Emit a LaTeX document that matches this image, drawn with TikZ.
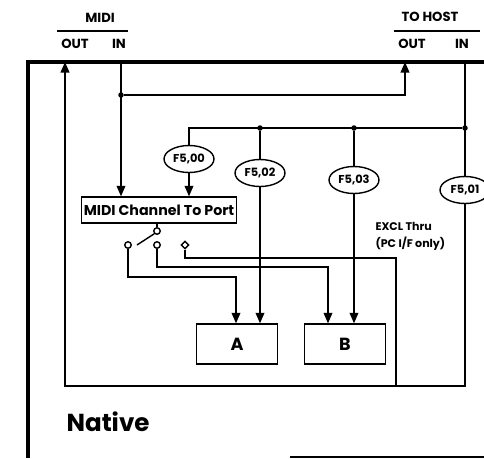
\documentclass[tikz,border=0pt]{standalone}
\usepackage{fontspec}
\setmainfont{Poppins}
\usetikzlibrary{positioning, arrows.meta, calc, shapes.geometric}

\begin{document}
\begin{tikzpicture}[
  x=0.02cm, y=-0.02cm,
  >={Triangle[length=6pt, width=5pt]},
  font=\bfseries, line width=0.8pt,
  frame/.style={line width=1.8pt},
  hdr/.style={font=\fontsize{7.5}{9}\selectfont\bfseries},
  filt/.style={draw, ellipse, minimum width=1cm, minimum height=0.54cm,
               inner sep=0pt, font=\fontsize{6.5}{8}\selectfont\bfseries},
  blk/.style={draw, minimum width=1.62cm, minimum height=0.8cm, inner sep=0pt},
  contact/.style={draw, circle, fill=white, minimum size=0.13cm, inner sep=0pt},
  jdot/.style={circle, fill, minimum size=0.11cm, inner sep=0pt},
]
\useasboundingbox (0,0) rectangle (484,458);

% Header labels
\node[hdr] (midilbl) at (100,18) {MIDI};
\node[hdr] (midiout) at (75,44) {OUT};
\node[hdr] (midiin) at (119,44) {IN};
\node[hdr] (hostlbl) at (430,17) {TO HOST};
\node[hdr] (hostout) at (412,44) {OUT};
\node[hdr] (hostin) at (462,44) {IN};
\draw (57,31) -- (128,31);
\draw (394,31) -- (480,31);

% Frame
\draw[frame] (484,62) -- (28,62) -- (28,458);
\draw (290,457) -- (484,457);

% Port points on the frame
\coordinate (midiOutP) at (65,62);
\coordinate (midiInP) at (121,62);
\coordinate (hostOutP) at (405,62);
\coordinate (hostInP) at (465,62);

% Junctions and corners
\node[jdot] (j1) at (121,95) {};
\node[jdot] (j2) at (465,128) {};
\node[jdot] (j3) at (354,128) {};
\node[jdot] (j4) at (260,128) {};
\coordinate (c1) at (189,128);
\coordinate (lowR) at (465,386);
\coordinate (lowL) at (65,386);

% Filters
\node[filt] (f500) at (189,159) {F5,00};
\node[filt] (f502) at (260,173) {F5,02};
\node[filt] (f503) at (354,180) {F5,03};
\node[filt] (f501) at (465,190) {F5,01};

% Blocks
\node[draw, minimum width=3.1cm, minimum height=0.52cm, inner sep=0pt,
      font=\fontsize{8.1}{10}\selectfont\bfseries] (mcp) at (159,210) {MIDI Channel To Port};
\node[blk] (boxA) at (237,344) {A};
\node[blk] (boxB) at (345,344) {B};

% Switch
\node[contact] (sw0) at (157,231) {};
\node[contact] (swL) at (128,245) {};
\node[contact] (swM) at (157,245) {};
\node[draw, diamond, fill=white, minimum size=0.16cm, inner sep=0pt] (swR) at (185,245) {};
\draw (sw0) -- (sw0 |- mcp.south);
\draw ([xshift=0.1cm]swL.east) -- (sw0.south west);

% MIDI IN to host out and to channel box
\draw[->] (midiInP) -- (midiInP |- mcp.north);
\draw[->] (j1) -| (hostOutP);

% Host IN distribution
\draw (hostInP) -- (f501);
\draw (j2) -- (c1) -- (f500);
\draw (j4) -- (f502);
\draw (j3) -- (f503);
\draw[->] (f500) -- (f500 |- mcp.north);
\draw[->] (f502) -- (f502 |- boxA.north);
\draw[->] (f503) -- (f503 |- boxB.north);

% Switch outputs
\coordinate (aTurn) at (236,277);
\coordinate (bTurn) at (328,267);
\coordinate (xTurn) at (396,258);
\draw[->] (swL) |- (aTurn) -- (aTurn |- boxA.north);
\draw[->] (swM) |- (bTurn) -- (bTurn |- boxB.north);
\draw (swR) |- (xTurn) -- (xTurn |- lowR);

% Loop back to MIDI OUT
\draw[->] (f501) -- (lowR) -- (lowL) -- (midiOutP);

\node[align=left, anchor=west, font=\fontsize{6.3}{9.6}\selectfont\bfseries] (excl) at (369,236)
  {EXCL Thru\\(PC I/F only)};
\node[anchor=west, font=\fontsize{14}{16}\selectfont\bfseries] (native) at (60,422) {Native};

\end{tikzpicture}
\end{document}
